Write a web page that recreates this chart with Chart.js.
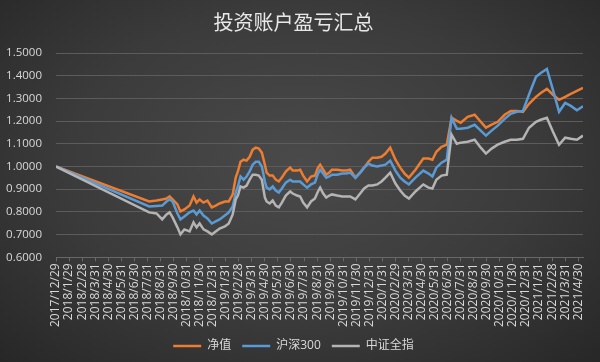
<!DOCTYPE html>
<html>
<head>
<meta charset="utf-8">
<script src="https://cdn.jsdelivr.net/npm/chart.js@4.4.1/dist/chart.umd.min.js"></script>
<style>
  html, body { margin: 0; padding: 0; }
  body {
    width: 600px; height: 362px; overflow: hidden;
    background: radial-gradient(ellipse at 50% 45%, #4a4a4a 0%, #3b3b3b 55%, #272727 100%);
  }
  canvas { display: block; }
</style>
</head>
<body>
<canvas id="c" width="600" height="362"></canvas>
<script>
"use strict";

const dates = [
  "2017/12/29", "2018/8/3", "2018/8/20", "2018/9/3", "2018/9/13", "2018/9/20", "2018/9/27", "2018/10/8", "2018/10/15", "2018/10/24",
  "2018/11/6", "2018/11/15", "2018/11/22", "2018/11/29", "2018/12/8", "2018/12/17", "2018/12/27", "2019/1/6", "2019/1/15", "2019/1/27",
  "2019/2/6", "2019/2/15", "2019/2/22", "2019/2/27", "2019/3/3", "2019/3/10", "2019/3/17", "2019/3/24", "2019/4/1", "2019/4/8",
  "2019/4/15", "2019/4/22", "2019/4/29", "2019/5/3", "2019/5/10", "2019/5/17", "2019/5/24", "2019/6/1", "2019/6/8", "2019/6/17",
  "2019/6/27", "2019/7/3", "2019/7/13", "2019/7/20", "2019/7/27", "2019/8/6", "2019/8/15", "2019/8/24", "2019/9/1", "2019/9/6",
  "2019/9/13", "2019/9/20", "2019/9/27", "2019/10/3", "2019/10/15", "2019/10/27", "2019/11/6", "2019/11/15", "2019/11/27", "2019/12/8",
  "2019/12/17", "2019/12/27", "2020/1/6", "2020/1/17", "2020/1/27", "2020/2/6", "2020/2/17", "2020/2/29", "2020/3/10", "2020/3/20",
  "2020/3/30", "2020/4/15", "2020/5/3", "2020/5/15", "2020/5/24", "2020/6/3", "2020/6/15", "2020/6/27", "2020/7/8", "2020/7/20",
  "2020/7/29", "2020/8/15", "2020/9/1", "2020/9/15", "2020/9/27", "2020/10/10", "2020/10/24", "2020/11/10", "2020/11/24", "2020/12/8",
  "2020/12/22", "2021/1/6", "2021/1/22", "2021/2/3", "2021/2/17", "2021/3/1", "2021/3/15", "2021/3/29", "2021/4/12", "2021/4/26",
  "2021/5/10"
];

// 净值
const netValue = [
  1.000, 0.846, 0.850, 0.855, 0.859, 0.868, 0.855, 0.833, 0.802, 0.811,
  0.828, 0.868, 0.841, 0.855, 0.841, 0.850, 0.820, 0.828, 0.837, 0.846,
  0.846, 0.877, 0.951, 0.978, 1.021, 1.030, 1.026, 1.043, 1.074, 1.083,
  1.079, 1.061, 1.008, 0.973, 0.960, 0.960, 0.942, 0.934, 0.951, 0.978,
  0.995, 0.982, 0.982, 0.986, 0.960, 0.934, 0.956, 0.960, 0.995, 1.008,
  0.986, 0.964, 0.973, 0.986, 0.986, 0.982, 0.982, 0.986, 0.951, 0.973,
  0.995, 1.021, 1.039, 1.039, 1.043, 1.057, 1.083, 1.030, 0.995, 0.969,
  0.951, 0.986, 1.035, 1.035, 1.030, 1.065, 1.087, 1.096, 1.215, 1.201,
  1.193, 1.219, 1.228, 1.197, 1.171, 1.184, 1.197, 1.228, 1.245, 1.245,
  1.241, 1.276, 1.307, 1.324, 1.342, 1.316, 1.294, 1.307, 1.320, 1.333,
  1.346
];

// 沪深300
const hs300 = [
  1.000, 0.824, 0.826, 0.828, 0.846, 0.855, 0.846, 0.793, 0.767, 0.780,
  0.798, 0.806, 0.789, 0.806, 0.784, 0.771, 0.749, 0.758, 0.767, 0.784,
  0.798, 0.824, 0.885, 0.912, 0.956, 0.942, 0.956, 0.978, 1.008, 1.021,
  1.021, 1.000, 0.934, 0.907, 0.899, 0.912, 0.894, 0.885, 0.903, 0.929,
  0.942, 0.934, 0.934, 0.934, 0.921, 0.907, 0.921, 0.929, 0.969, 0.986,
  0.969, 0.951, 0.956, 0.964, 0.964, 0.969, 0.969, 0.973, 0.951, 0.973,
  0.995, 1.013, 1.004, 1.000, 1.004, 1.008, 1.026, 0.982, 0.951, 0.934,
  0.921, 0.951, 0.982, 0.969, 0.956, 0.995, 1.017, 1.030, 1.215, 1.166,
  1.166, 1.171, 1.184, 1.158, 1.136, 1.158, 1.180, 1.210, 1.232, 1.241,
  1.245, 1.317, 1.395, 1.412, 1.430, 1.338, 1.241, 1.280, 1.267, 1.248,
  1.265
];

// 中证全指
const csiAll = [
  1.000, 0.798, 0.793, 0.767, 0.789, 0.798, 0.776, 0.732, 0.701, 0.723,
  0.714, 0.754, 0.732, 0.749, 0.723, 0.714, 0.701, 0.714, 0.727, 0.736,
  0.749, 0.789, 0.855, 0.872, 0.912, 0.907, 0.916, 0.942, 0.964, 0.964,
  0.960, 0.942, 0.863, 0.846, 0.837, 0.850, 0.828, 0.820, 0.841, 0.872,
  0.890, 0.881, 0.872, 0.868, 0.841, 0.820, 0.846, 0.859, 0.890, 0.907,
  0.881, 0.863, 0.872, 0.877, 0.872, 0.868, 0.868, 0.868, 0.855, 0.881,
  0.903, 0.916, 0.916, 0.921, 0.934, 0.951, 0.973, 0.925, 0.894, 0.872,
  0.859, 0.890, 0.921, 0.907, 0.903, 0.942, 0.960, 0.964, 1.140, 1.100,
  1.105, 1.109, 1.118, 1.083, 1.057, 1.079, 1.096, 1.109, 1.118, 1.118,
  1.122, 1.171, 1.197, 1.206, 1.215, 1.153, 1.096, 1.127, 1.122, 1.118,
  1.136
];

const tickLabels = [
  "2017/12/29", "2018/1/29", "2018/2/28", "2018/3/31", "2018/4/30", "2018/5/31", "2018/6/30",
  "2018/7/31", "2018/8/31", "2018/9/30", "2018/10/31", "2018/11/30", "2018/12/31",
  "2019/1/31", "2019/2/28", "2019/3/31", "2019/4/30", "2019/5/31", "2019/6/30",
  "2019/7/31", "2019/8/31", "2019/9/30", "2019/10/31", "2019/11/30", "2019/12/31",
  "2020/1/31", "2020/2/29", "2020/3/31", "2020/4/30", "2020/5/31", "2020/6/30",
  "2020/7/31", "2020/8/31", "2020/9/30", "2020/10/31", "2020/11/30", "2020/12/31",
  "2021/1/31", "2021/2/28", "2021/3/31", "2021/4/30"
];

const seriesNames = ["净值", "沪深300", "中证全指"];
const seriesColors = ["#ed7d31", "#5b9bd5", "#b4b4b4"];

// month slots counted from 2017/12/29 (each tick label = one slot)
function monthPos(s) {
  const [y, m, d] = s.split("/").map(Number);
  return (y - 2018) * 12 + m + (d - 29) / 30;
}

const xs = dates.map(monthPos);
const FONT = "'Open Sans', 'Noto Sans CJK SC', sans-serif";
const TEXT = "#d9d9d9";

new Chart(document.getElementById("c"), {
  type: "line",
  data: {
    datasets: [netValue, hs300, csiAll].map((vals, i) => ({
      label: seriesNames[i],
      data: vals.map((v, j) => ({ x: xs[j], y: v })),
      borderColor: seriesColors[i],
      backgroundColor: seriesColors[i],
      borderWidth: 2.5,
      pointRadius: 0,
      tension: 0,
      order: 3 - i
    }))
  },
  options: {
    responsive: false,
    animation: false,
    layout: { padding: { left: 4, right: 17, top: 0, bottom: 0 } },
    plugins: {
      title: {
        display: true,
        text: "投资账户盈亏汇总",
        color: "#e8e8e8",
        font: { family: "'Noto Sans CJK SC', sans-serif", size: 20, weight: "normal" },
        padding: { top: 10, bottom: 19 }
      },
      legend: {
        position: "bottom",
        labels: {
          color: TEXT,
          font: { family: FONT, size: 12 },
          usePointStyle: true,
          pointStyle: "line",
          pointStyleWidth: 28,
          padding: 11,
          sort: (a, b) => a.datasetIndex - b.datasetIndex
        }
      },
      tooltip: { enabled: false }
    },
    scales: {
      x: {
        type: "linear",
        min: 0,
        max: xs[xs.length - 1],
        afterBuildTicks: scale => {
          scale.ticks = tickLabels.map((_, i) => ({ value: i }));
        },
        grid: { drawOnChartArea: false, tickLength: 4, color: "#686868" },
        border: { color: "#686868" },
        ticks: {
          autoSkip: false,
          minRotation: 90,
          maxRotation: 90,
          padding: 2,
          color: TEXT,
          font: { family: FONT, size: 12 },
          callback: (v, i) => tickLabels[i]
        }
      },
      y: {
        min: 0.6,
        max: 1.5,
        afterFit: scale => { scale.width = 52; },
        grid: { color: "#5c5c5c", drawTicks: false },
        border: { display: false },
        ticks: {
          stepSize: 0.05,
          padding: 14,
          color: TEXT,
          font: { family: FONT, size: 11.5 },
          callback: v => v.toFixed(4)
        }
      }
    }
  }
});
</script>
</body>
</html>
